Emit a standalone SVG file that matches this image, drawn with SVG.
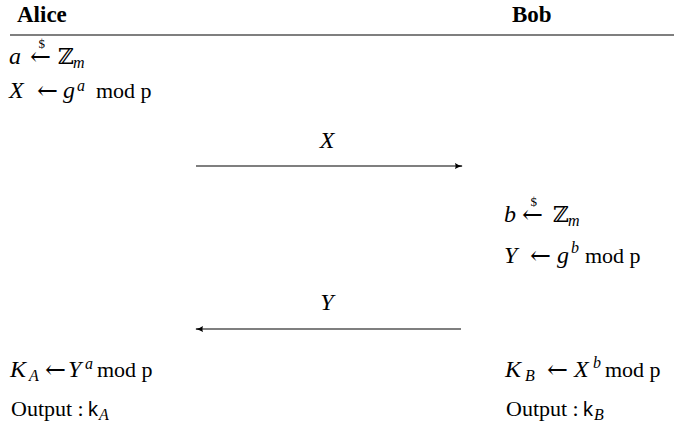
<svg xmlns="http://www.w3.org/2000/svg" width="674" height="424" viewBox="0 0 674 424">
<defs>
<style>
text{font-family:"Liberation Serif","DejaVu Serif",serif;font-size:22px;fill:#000}
.h{font-weight:bold;font-size:23px}
.i{font-style:italic;font-size:24px}
.s{font-style:italic;font-size:16px}
.d{font-size:13px}
.sf{font-family:"Liberation Sans","DejaVu Sans",sans-serif;font-size:20px}
.ar{font-family:"DejaVu Serif",serif;font-size:25px}
.conn{stroke:#000;stroke-width:1.2;fill:none}
</style>
<marker id="ah" viewBox="0 0 10 10" refX="9" refY="5" markerWidth="8" markerHeight="8" markerUnits="userSpaceOnUse" orient="auto">
<path d="M0,1 Q4,4 10,5 Q4,6 0,9 Q2,5 0,1 Z" fill="#000"/>
</marker>
</defs>
<rect width="674" height="424" fill="#fff"/>
<g id="header">
<text class="h" x="17" y="22">Alice</text>
<text class="h" x="512" y="22">Bob</text>
<line x1="10" y1="35" x2="674" y2="35" stroke="#555" stroke-width="1.5"/>
</g>
<g id="alice-gen">
<text class="i" x="9" y="64">a</text>
<text class="ar" x="30" y="65">←</text>
<text class="d" x="38.5" y="48">$</text>
<text x="58" y="64">ℤ</text>
<text class="s" x="73" y="68">m</text>
<text class="i" x="9" y="98">X</text>
<text class="ar" x="37" y="99">←</text>
<text class="i" x="63" y="98">g</text>
<text class="s" x="77" y="91">a</text>
<text x="96" y="98">mod p</text>
</g>
<g id="bob-gen">
<text class="i" x="504" y="222">b</text>
<text class="ar" x="522" y="223">←</text>
<text class="d" x="530.5" y="206">$</text>
<text x="553" y="222">ℤ</text>
<text class="s" x="568" y="226">m</text>
<text class="i" x="504" y="263">Y</text>
<text class="ar" x="530" y="264">←</text>
<text class="i" x="557" y="263">g</text>
<text class="s" x="571" y="253">b</text>
<text x="585" y="263">mod p</text>
</g>
<g id="alice-out">
<text class="i" x="10" y="377">K</text>
<text class="s" x="29" y="381">A</text>
<text class="ar" x="45" y="378">←</text>
<text class="i" x="68" y="377">Y</text>
<text class="s" x="85" y="369">a</text>
<text x="97" y="377">mod p</text>
<text x="11" y="416">Output :</text>
<text class="sf" x="88" y="416">k</text>
<text class="s" x="99" y="420">A</text>
</g>
<g id="bob-out">
<text class="i" x="505" y="377">K</text>
<text class="s" x="525" y="381">B</text>
<text class="ar" x="547" y="378">←</text>
<text class="i" x="574" y="377">X</text>
<text class="s" x="593" y="368">b</text>
<text x="605" y="377">mod p</text>
<text x="506" y="416">Output :</text>
<text class="sf" x="583" y="416">k</text>
<text class="s" x="594" y="420">B</text>
</g>
<g id="connectors">
<line class="conn" x1="196" y1="166" x2="462" y2="166" marker-end="url(#ah)"/>
<text class="i" x="327" y="148" text-anchor="middle">X</text>
<line class="conn" x1="461" y1="329" x2="196" y2="329" marker-end="url(#ah)"/>
<text class="i" x="327" y="310" text-anchor="middle">Y</text>
</g>
</svg>
